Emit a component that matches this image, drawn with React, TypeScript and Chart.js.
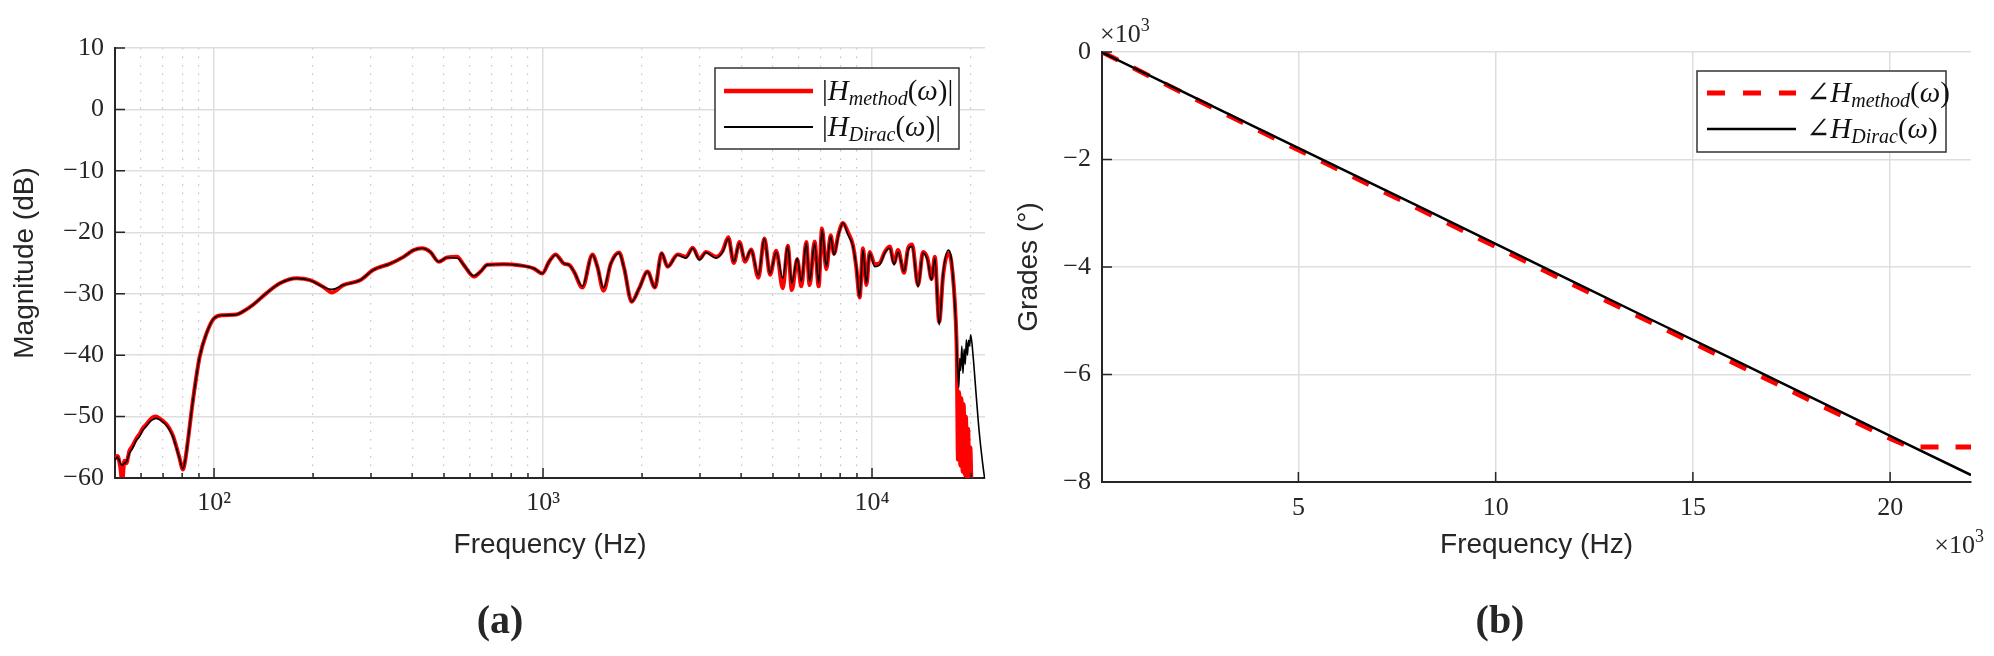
import React, { useEffect, useRef } from 'react';
import { Chart, registerables } from 'chart.js';

Chart.register(...registerables);

// ---------------- (a) magnitude response ----------------
const magFreqs = [
  50, 50.9, 51.8, 52.6, 53.4, 54.1, 55.3, 56.5, 58.0, 59.3,
  60.8, 62.2, 63.7, 65.2, 66.7, 68.3, 69.9, 71.6, 73.3, 75.0,
  76.7, 78.5, 80.4, 81.8, 83.3, 86.3, 90.4, 94.8, 100, 106.5,
  116.9, 122.5, 131.4, 144.4, 158.6, 178.2, 195.8, 214.9, 227.9, 247.3,
  277.8, 305.3, 343.4, 376.8, 404.3, 428.7, 454.5, 481.9, 511, 548,
  574, 616, 646, 677, 760, 855, 939, 995, 1043, 1092,
  1158, 1199, 1242, 1317, 1413, 1463, 1527, 1607, 1703, 1765,
  1859, 1961, 2078, 2188, 2293, 2391, 2566, 2720, 2851, 2988,
  3130, 3357, 3516, 3657, 3799, 3956, 4115, 4289, 4515, 4708,
  4898, 5115, 5356, 5546, 5705, 5925, 6095, 6313, 6461, 6689,
  6884, 7045, 7263, 7487, 7663, 7913, 8160, 8450, 8750, 8960,
  9170, 9390, 9610, 9840, 10190, 10550, 10930, 11320, 11670, 12000,
  12510, 12870, 13240, 13800, 14290, 14740, 15170, 15520, 16000, 16450,
  17040, 17440, 17940,
];

const magDirac = [
  -57.1, -56.6, -57.5, -57.9, -57.6, -57.4, -56.0, -55.2, -53.9, -53.3,
  -52.2, -51.6, -50.9, -50.5, -50.3, -50.5, -50.9, -51.4, -52.2, -53.3,
  -54.9, -56.8, -58.5, -57.0, -53.9, -47.3, -40.3, -36.5, -34.0, -33.5,
  -33.4, -32.9, -31.8, -29.9, -28.3, -27.5, -27.8, -28.9, -29.3, -28.6,
  -27.8, -26.1, -25.1, -24.0, -22.9, -22.6, -23.2, -24.8, -24.1, -24.2,
  -25.3, -27.1, -26.4, -25.3, -25.2, -25.4, -25.9, -26.7, -24.8, -23.7,
  -25.1, -25.3, -26.4, -28.8, -23.7, -25.6, -29.1, -25.1, -23.4, -25.9,
  -31.3, -29.1, -26.4, -29.0, -23.4, -25.6, -23.7, -24.2, -22.6, -24.5,
  -23.3, -24.2, -23.2, -21.0, -24.8, -21.8, -24.5, -22.9, -27.0, -21.0,
  -26.7, -23.2, -27.5, -22.3, -28.3, -24.2, -28.0, -21.8, -28.0, -21.8,
  -28.3, -19.6, -25.6, -20.7, -23.7, -20.4, -18.5, -20.4, -22.3, -25.6,
  -30.5, -22.9, -28.3, -23.4, -25.6, -25.3, -23.4, -22.6, -25.3, -23.2,
  -26.4, -22.9, -22.3, -28.9, -23.4, -24.5, -27.8, -24.2, -35.1, -26.7,
  -22.9, -24.5, -33.8,
];

const magMethod = [
  -56.8, -56.4, -58.0, -60.5, -57.2, -57.6, -55.6, -54.8, -53.6, -52.9,
  -51.9, -51.3, -50.6, -50.1, -50.0, -50.3, -50.7, -51.2, -52.0, -53.1,
  -54.8, -56.7, -58.6, -57.0, -53.9, -47.3, -40.3, -36.5, -34.0, -33.5,
  -33.4, -32.9, -31.8, -29.9, -28.3, -27.5, -27.8, -28.9, -29.8, -28.6,
  -27.8, -26.1, -25.1, -24.0, -22.9, -22.6, -23.2, -24.8, -24.1, -24.0,
  -25.3, -27.2, -26.4, -25.3, -25.2, -25.4, -25.9, -26.7, -24.8, -23.6,
  -25.1, -25.3, -26.4, -29.0, -23.6, -25.6, -29.5, -25.1, -23.3, -25.9,
  -31.3, -29.1, -26.4, -29.0, -23.4, -25.6, -23.6, -24.0, -22.5, -24.3,
  -23.2, -24.0, -23.0, -20.8, -25.0, -21.6, -24.8, -22.8, -27.4, -21.0,
  -26.9, -23.0, -29.1, -22.2, -29.4, -24.4, -28.8, -21.6, -28.6, -21.5,
  -28.8, -19.4, -26.0, -20.5, -23.5, -20.2, -18.5, -20.0, -22.1, -25.8,
  -30.6, -22.6, -28.6, -23.2, -25.2, -25.0, -23.2, -22.3, -25.0, -22.9,
  -26.6, -22.6, -22.0, -28.6, -23.2, -24.2, -27.6, -24.0, -34.6, -27.0,
  -23.4, -25.0, -33.6,
];

const diracTailFreqs = [18360, 18480, 18600, 18750, 18900, 19050, 19200, 19350, 19500, 19650, 19800, 19950, 20300, 20750, 21200, 21700, 22050];
const diracTailDb = [-45.2, -40.5, -42.5, -38.5, -43.0, -39.0, -41.5, -37.5, -40.0, -37.6, -38.5, -36.7, -40.3, -46.8, -52.8, -57.7, -60.5];

const methodTailFreqs = [18100, 18250, 18400, 18550, 18700, 18850, 19000, 19150, 19300, 19450, 19600, 19750, 19900, 20050];
const methodTailDb = [-40.0, -57.0, -46.0, -58.0, -47.0, -59.0, -48.0, -59.5, -50.0, -60.0, -52.0, -60.5, -55.0, -61.0];

const magTickFreqs = [60, 70, 80, 90, 100, 200, 300, 400, 500, 600, 700, 800, 900, 1000, 2000, 3000, 4000, 5000, 6000, 7000, 8000, 9000, 10000, 20000];
const magMajorFreqs = [100, 1000, 10000];
const magMajorLabels = ['10\u00b2', '10\u00b3', '10\u2074'];
const magDbTicks = [10, 0, -10, -20, -30, -40, -50, -60];

// ---------------- (b) phase response ----------------
const phaseFreqs = [21.5, 2000, 4000, 6000, 8000, 10000, 12000, 14000, 16000, 18000, 20000, 22050];
const phaseDirac = [-8, -715, -1430, -2140, -2855, -3570, -4285, -5000, -5710, -6425, -7140, -7870];
const phaseMethodFreqs = [21.5, 2000, 4000, 6000, 8000, 10000, 12000, 14000, 16000, 18000, 20000, 20500, 22050];
const phaseMethod = [0, -735, -1460, -2180, -2900, -3620, -4340, -5050, -5770, -6490, -7190, -7350, -7350];
const phaseFreqTicks = [5000, 10000, 15000, 20000];
const phaseDegTicks = [0, -2000, -4000, -6000, -8000];

// ---------------- styling helpers ----------------
const SERIF = "'Liberation Serif', 'DejaVu Serif', serif";
const SANS = "'Liberation Sans', Arial, sans-serif";
const INK = '#262626';
const GRID_MAJOR = '#dedede';
const GRID_MINOR = '#c4c4c4';

type Part = { t: string; size: number; it?: boolean; bold?: boolean; dy?: number };

function partFont(p: Part) {
  return `${p.it ? 'italic ' : ''}${p.bold ? 'bold ' : ''}${p.size}px ${SERIF}`;
}

function richWidth(ctx: CanvasRenderingContext2D, parts: Part[]) {
  let w = 0;
  for (const p of parts) {
    ctx.font = partFont(p);
    w += ctx.measureText(p.t).width;
  }
  return w;
}

function drawRich(ctx: CanvasRenderingContext2D, x: number, y: number, parts: Part[], align: 'left' | 'center' | 'right' = 'left') {
  const w = richWidth(ctx, parts);
  let cx = align === 'left' ? x : align === 'center' ? x - w / 2 : x - w;
  ctx.textAlign = 'left';
  ctx.textBaseline = 'alphabetic';
  for (const p of parts) {
    ctx.font = partFont(p);
    ctx.fillText(p.t, cx, y + (p.dy || 0));
    cx += ctx.measureText(p.t).width;
  }
}

const minus = (v: number) => (v < 0 ? '\u2212' + Math.abs(v) : String(v));

type LegendEntry = { parts: Part[]; color: string; width: number; dash?: number[] };
type TextItem = { parts: Part[]; x: number; y: number; align: 'left' | 'center' | 'right' };

function makeOverlay(opts: {
  xTicks: { v: number; len: number }[];
  yTicks: number[];
  legend: { dxRight: number; dyTop: number; w: number; h: number; sampleX0: number; sampleX1: number; textX: number; rows: number[]; entries: LegendEntry[] };
  texts: TextItem[];
}) {
  return {
    id: 'overlay',
    afterDatasetsDraw(chart: any) {
      const { ctx, chartArea: a, scales } = chart;
      ctx.save();
      // inward tick marks
      ctx.strokeStyle = INK;
      ctx.lineWidth = 1.5;
      ctx.beginPath();
      for (const t of opts.xTicks) {
        const px = scales.x.getPixelForValue(t.v);
        ctx.moveTo(px, a.bottom);
        ctx.lineTo(px, a.bottom - t.len);
      }
      for (const v of opts.yTicks) {
        const py = scales.y.getPixelForValue(v);
        ctx.moveTo(a.left, py);
        ctx.lineTo(a.left + 10, py);
      }
      ctx.stroke();

      // legend
      const L = opts.legend;
      const bx = a.right - L.dxRight - L.w;
      const by = a.top + L.dyTop;
      ctx.fillStyle = '#ffffff';
      ctx.fillRect(bx, by, L.w, L.h);
      ctx.strokeStyle = '#333333';
      ctx.lineWidth = 1.5;
      ctx.strokeRect(bx, by, L.w, L.h);
      L.entries.forEach((e, i) => {
        const ry = by + L.rows[i];
        ctx.beginPath();
        ctx.setLineDash(e.dash || []);
        ctx.strokeStyle = e.color;
        ctx.lineWidth = e.width;
        ctx.moveTo(bx + L.sampleX0, ry);
        ctx.lineTo(bx + L.sampleX1, ry);
        ctx.stroke();
        ctx.setLineDash([]);
        ctx.fillStyle = '#111111';
        drawRich(ctx, bx + L.textX, ry + 9, e.parts, 'left');
      });
      ctx.restore();
    },
    afterDraw(chart: any) {
      const { ctx } = chart;
      ctx.save();
      ctx.fillStyle = INK;
      for (const t of opts.texts) drawRich(ctx, t.x, t.y, t.parts, t.align);
      ctx.restore();
    },
  };
}

function pts(xs: number[], ys: number[]) {
  return xs.map((x, i) => ({ x, y: ys[i] }));
}

const tickFont = { family: SERIF, size: 26 };
const titleFont = { family: SANS, size: 28 };

const LEG_SIZE = 29;
const SUB_SIZE = 20;

function magConfig(): any {
  const methodData = pts([...magFreqs, ...methodTailFreqs], [...magMethod, ...methodTailDb]);
  const diracData = pts([...magFreqs, ...diracTailFreqs], [...magDirac, ...diracTailDb]);
  return {
    type: 'line',
    data: {
      datasets: [
        { label: 'method', data: methodData, borderColor: '#ff0000', borderWidth: 4, pointRadius: 0, cubicInterpolationMode: 'monotone', order: 2 },
        { label: 'dirac', data: diracData, borderColor: '#000000', borderWidth: 1.6, pointRadius: 0, cubicInterpolationMode: 'monotone', order: 1 },
      ],
    },
    options: {
      animation: false,
      responsive: false,
      maintainAspectRatio: false,
      layout: { padding: { left: 0, top: 48, right: 12, bottom: 78 } },
      plugins: { legend: { display: false }, tooltip: { enabled: false } },
      scales: {
        x: {
          type: 'logarithmic',
          min: 50,
          max: 22050,
          afterBuildTicks: (s: any) => { s.ticks = magTickFreqs.map((v) => ({ value: v })); },
          afterFit: (s: any) => { s.height = 100; },
          ticks: {
            autoSkip: false,
            maxRotation: 0,
            minRotation: 0,
            padding: 10,
            font: tickFont,
            color: INK,
            callback: (v: number) => {
              const k = magMajorFreqs.indexOf(v);
              return k >= 0 ? magMajorLabels[k] : '';
            },
          },
          grid: {
            drawTicks: false,
            color: (c: any) => (c.tick && magMajorFreqs.includes(c.tick.value) ? GRID_MAJOR : GRID_MINOR),
            lineWidth: (c: any) => (c.tick && magMajorFreqs.includes(c.tick.value) ? 1.5 : 1.2),
          },
          border: {
            display: true,
            color: INK,
            width: 2,
            dash: (c: any) => (c.tick && !magMajorFreqs.includes(c.tick.value) ? [1.5, 7] : []),
          },
          title: { display: true, text: 'Frequency (Hz)', font: titleFont, color: INK, padding: { top: 0, bottom: 16 } },
        },
        y: {
          type: 'linear',
          min: -60,
          max: 10,
          afterBuildTicks: (s: any) => { s.ticks = magDbTicks.map((v) => ({ value: v })); },
          afterFit: (s: any) => { s.width = 115; },
          ticks: { padding: 11, font: tickFont, color: INK, callback: (v: number) => minus(v) },
          grid: { drawTicks: false, color: GRID_MAJOR, lineWidth: 1.5 },
          border: { display: true, color: INK, width: 2 },
          title: { display: true, text: 'Magnitude (dB)', font: titleFont, color: INK, padding: { top: 8, bottom: 0 } },
        },
      },
    },
    plugins: [
      makeOverlay({
        xTicks: magTickFreqs.map((v) => ({ v, len: magMajorFreqs.includes(v) ? 10 : 5 })),
        yTicks: magDbTicks,
        legend: {
          dxRight: 26, dyTop: 20, w: 244, h: 81, sampleX0: 9, sampleX1: 98, textX: 107, rows: [23, 59],
          entries: [
            {
              color: '#ff0000', width: 4.5,
              parts: [
                { t: '|', size: LEG_SIZE }, { t: 'H', size: LEG_SIZE, it: true },
                { t: 'method', size: SUB_SIZE, it: true, dy: 5 },
                { t: '(', size: LEG_SIZE }, { t: '\u03c9', size: LEG_SIZE, it: true }, { t: ')', size: LEG_SIZE }, { t: '|', size: LEG_SIZE },
              ],
            },
            {
              color: '#000000', width: 1.8,
              parts: [
                { t: '|', size: LEG_SIZE }, { t: 'H', size: LEG_SIZE, it: true },
                { t: 'Dirac', size: SUB_SIZE, it: true, dy: 5 },
                { t: '(', size: LEG_SIZE }, { t: '\u03c9', size: LEG_SIZE, it: true }, { t: ')', size: LEG_SIZE }, { t: '|', size: LEG_SIZE },
              ],
            },
          ],
        },
        texts: [
          { parts: [{ t: '(a)', size: 40, bold: true }], x: 500, y: 633, align: 'center' },
        ],
      }),
    ],
  };
}

function phaseConfig(): any {
  return {
    type: 'line',
    data: {
      datasets: [
        { label: 'method', data: pts(phaseMethodFreqs, phaseMethod), borderColor: '#ff0000', borderWidth: 5, borderDash: [18, 17], pointRadius: 0, tension: 0, order: 2 },
        { label: 'dirac', data: pts(phaseFreqs, phaseDirac), borderColor: '#000000', borderWidth: 2.5, pointRadius: 0, tension: 0, order: 1 },
      ],
    },
    options: {
      animation: false,
      responsive: false,
      maintainAspectRatio: false,
      layout: { padding: { left: 0, top: 52, right: 23, bottom: 74 } },
      plugins: { legend: { display: false }, tooltip: { enabled: false } },
      scales: {
        x: {
          type: 'linear',
          min: phaseFreqs[0],
          max: 22050,
          afterBuildTicks: (s: any) => { s.ticks = phaseFreqTicks.map((v) => ({ value: v })); },
          afterFit: (s: any) => { s.height = 100; },
          ticks: { autoSkip: false, maxRotation: 0, minRotation: 0, padding: 11, font: tickFont, color: INK, callback: (v: number) => String(v / 1000) },
          grid: { drawTicks: false, color: GRID_MAJOR, lineWidth: 1.5 },
          border: { display: true, color: INK, width: 2 },
          title: { display: true, text: 'Frequency (Hz)', font: titleFont, color: INK, padding: { top: 0, bottom: 20 } },
        },
        y: {
          type: 'linear',
          min: -8000,
          max: 0,
          afterBuildTicks: (s: any) => { s.ticks = phaseDegTicks.map((v) => ({ value: v })); },
          afterFit: (s: any) => { s.width = 105; },
          ticks: { padding: 11, font: tickFont, color: INK, callback: (v: number) => minus(v / 1000) },
          grid: { drawTicks: false, color: GRID_MAJOR, lineWidth: 1.5 },
          border: { display: true, color: INK, width: 2 },
          title: { display: true, text: 'Grades (\u00b0)', font: titleFont, color: INK, padding: { top: 15, bottom: 0 } },
        },
      },
    },
    plugins: [
      makeOverlay({
        xTicks: phaseFreqTicks.map((v) => ({ v, len: 10 })),
        yTicks: phaseDegTicks,
        legend: {
          dxRight: 25, dyTop: 19, w: 249, h: 81, sampleX0: 10, sampleX1: 99, textX: 109, rows: [22, 58],
          entries: [
            {
              color: '#ff0000', width: 5, dash: [18, 18],
              parts: [
                { t: '\u2220', size: LEG_SIZE }, { t: 'H', size: LEG_SIZE, it: true },
                { t: 'method', size: SUB_SIZE, it: true, dy: 5 },
                { t: '(', size: LEG_SIZE }, { t: '\u03c9', size: LEG_SIZE, it: true }, { t: ')', size: LEG_SIZE },
              ],
            },
            {
              color: '#000000', width: 2.5,
              parts: [
                { t: '\u2220', size: LEG_SIZE }, { t: 'H', size: LEG_SIZE, it: true },
                { t: 'Dirac', size: SUB_SIZE, it: true, dy: 5 },
                { t: '(', size: LEG_SIZE }, { t: '\u03c9', size: LEG_SIZE, it: true }, { t: ')', size: LEG_SIZE },
              ],
            },
          ],
        },
        texts: [
          { parts: [{ t: '\u00d710', size: 26 }, { t: '3', size: 18, dy: -11 }], x: 103, y: 42, align: 'left' },
          { parts: [{ t: '\u00d710', size: 26 }, { t: '3', size: 18, dy: -11 }], x: 987, y: 553, align: 'right' },
          { parts: [{ t: '(b)', size: 40, bold: true }], x: 503, y: 633, align: 'center' },
        ],
      }),
    ],
  };
}

export default function App() {
  const leftRef = useRef<HTMLCanvasElement>(null);
  const rightRef = useRef<HTMLCanvasElement>(null);

  useEffect(() => {
    const c1 = new Chart(leftRef.current as HTMLCanvasElement, magConfig());
    const c2 = new Chart(rightRef.current as HTMLCanvasElement, phaseConfig());
    return () => {
      c1.destroy();
      c2.destroy();
    };
  }, []);

  return (
    <div style={{ position: 'fixed', left: 0, top: 0, width: 1994, height: 656, background: '#ffffff', overflow: 'hidden' }}>
      <canvas ref={leftRef} width={997} height={656} style={{ position: 'absolute', left: 0, top: 0, width: 997, height: 656 }} />
      <canvas ref={rightRef} width={997} height={656} style={{ position: 'absolute', left: 997, top: 0, width: 997, height: 656 }} />
    </div>
  );
}
